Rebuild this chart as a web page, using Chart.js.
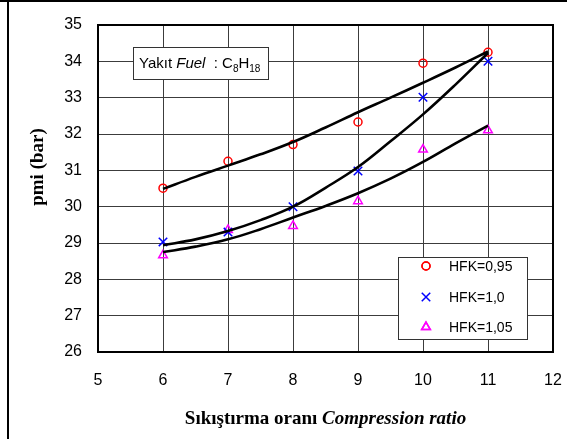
<!DOCTYPE html>
<html>
<head>
<meta charset="utf-8">
<script src="https://cdn.jsdelivr.net/npm/chart.js@4/dist/chart.umd.min.js"></script>
<style>
  html, body { margin: 0; padding: 0; background: #fff; }
  #wrap { width: 567px; height: 439px; position: relative; }
</style>
</head>
<body>
<div id="wrap"><canvas id="chart" width="567" height="439"></canvas></div>
<script>
// compression ratio values (x)
const ratios = [6, 7, 8, 9, 10, 11];

// measured pmi (bar)
const hfk095 = [30.51, 31.25, 31.71, 32.33, 33.95, 34.25];
const hfk100 = [29.03, 29.3, 30.0, 30.98, 33.01, 34.0];
const hfk105 = [28.66, 29.36, 29.47, 30.15, 31.57, 32.1];

// trend curves
const fitX = [6, 6.5, 7, 7.5, 8, 8.5, 9, 9.5, 10, 10.5, 11];
const fit095 = [30.49, 30.82, 31.13, 31.44, 31.78, 32.18, 32.6, 33.0, 33.41, 33.83, 34.27];
const fit100 = [28.94, 29.1, 29.33, 29.63, 30.0, 30.52, 31.09, 31.8, 32.54, 33.36, 34.23];
const fit105 = [28.75, 28.9, 29.1, 29.38, 29.7, 30.02, 30.37, 30.77, 31.23, 31.74, 32.23];

const seriesLabels = ['HFK=0,95', 'HFK=1,0', 'HFK=1,05'];
const xTicks = [5, 6, 7, 8, 9, 10, 11, 12];
const yTicks = [26, 27, 28, 29, 30, 31, 32, 33, 34, 35];

function pts(xs, ys) {
  return xs.map(function(x, i) { return { x: x, y: ys[i] }; });
}

function trend(ys) {
  return {
    data: pts(fitX, ys),
    showLine: true,
    borderColor: '#000',
    borderWidth: 2.6,
    pointRadius: 0,
    tension: 0.4,
    fill: false
  };
}

const markerStyles = [
  { pointStyle: 'circle', pointRadius: 4, pointBorderColor: '#ff0000', pointBackgroundColor: 'rgba(0,0,0,0)', pointBorderWidth: 1.5 },
  { pointStyle: 'crossRot', pointRadius: 6, pointBorderColor: '#0000ff', pointBackgroundColor: '#0000ff', pointBorderWidth: 1.5 },
  { pointStyle: 'triangle', pointRadius: 5, pointBorderColor: '#ff00ff', pointBackgroundColor: 'rgba(0,0,0,0)', pointBorderWidth: 1.5 }
];

function markers(ys, i) {
  const s = markerStyles[i];
  return Object.assign({ label: seriesLabels[i], data: pts(ratios, ys), showLine: false }, s);
}

// frame, plot border, note box, legend box, axis titles
const decorations = {
  id: 'decorations',
  afterDraw: function(chart) {
    const ctx = chart.ctx;
    const a = chart.chartArea;
    ctx.save();

    // outer frame (top + left)
    ctx.fillStyle = '#000';
    ctx.fillRect(0, 0, 567, 2);
    ctx.fillRect(7, 0, 2, 439);

    // plot border
    ctx.strokeStyle = '#000';
    ctx.lineWidth = 2;
    ctx.strokeRect(a.left, a.top, a.right - a.left, a.bottom - a.top);

    // fuel note
    ctx.fillStyle = '#fff';
    ctx.fillRect(133, 47, 135, 32);
    ctx.strokeStyle = '#333';
    ctx.lineWidth = 1;
    ctx.strokeRect(133.5, 47.5, 135, 32);
    ctx.fillStyle = '#000';
    ctx.textBaseline = 'alphabetic';
    ctx.textAlign = 'left';
    let x = 139;
    const base = 68;
    const parts = [
      ['Yakıt ', '15px "Liberation Sans", Arial', 0],
      ['Fuel', 'italic 15px "Liberation Sans", Arial', 0],
      ['  : C', '15px "Liberation Sans", Arial', 0],
      ['8', '10px "Liberation Sans", Arial', 4],
      ['H', '15px "Liberation Sans", Arial', 0],
      ['18', '10px "Liberation Sans", Arial', 4]
    ];
    parts.forEach(function(p) {
      ctx.font = p[1];
      ctx.fillText(p[0], x, base + p[2]);
      x += ctx.measureText(p[0]).width;
    });

    // legend
    ctx.fillStyle = '#fff';
    ctx.fillRect(398, 257, 129, 82);
    ctx.strokeStyle = '#333';
    ctx.strokeRect(398.5, 257.5, 129, 82);
    const rows = [266, 297, 327];
    ctx.font = '14px "Liberation Sans", Arial';
    ctx.textBaseline = 'middle';
    seriesLabels.forEach(function(lbl, i) {
      const s = markerStyles[i];
      ctx.strokeStyle = s.pointBorderColor;
      ctx.fillStyle = s.pointBackgroundColor;
      ctx.lineWidth = s.pointBorderWidth;
      Chart.helpers.drawPoint(ctx, { pointStyle: s.pointStyle, radius: s.pointRadius, rotation: 0, borderWidth: s.pointBorderWidth }, 426, rows[i]);
      if (s.pointStyle !== 'crossRot') ctx.stroke();
      ctx.fillStyle = '#000';
      ctx.fillText(lbl, 449, rows[i] + 1);
    });

    // x title with italic part
    ctx.textBaseline = 'alphabetic';
    const t1 = 'Sıkıştırma oranı ';
    const t2 = 'Compression ratio';
    ctx.font = 'bold 19px "Liberation Serif", "Times New Roman", serif';
    const w1 = ctx.measureText(t1).width;
    ctx.font = 'bold italic 19px "Liberation Serif", "Times New Roman", serif';
    const w2 = ctx.measureText(t2).width;
    let sx = (a.left + a.right) / 2 - (w1 + w2) / 2;
    ctx.font = 'bold 19px "Liberation Serif", "Times New Roman", serif';
    ctx.fillText(t1, sx, 424);
    ctx.font = 'bold italic 19px "Liberation Serif", "Times New Roman", serif';
    ctx.fillText(t2, sx + w1, 424);

    // y title
    ctx.translate(38, 167);
    ctx.rotate(-Math.PI / 2);
    ctx.textAlign = 'center';
    ctx.textBaseline = 'middle';
    ctx.font = 'bold 19px "Liberation Serif", "Times New Roman", serif';
    ctx.fillText('pmi (bar)', 0, 0);

    ctx.restore();
  }
};

new Chart(document.getElementById('chart').getContext('2d'), {
  type: 'scatter',
  data: {
    datasets: [
      trend(fit095),
      trend(fit100),
      trend(fit105),
      markers(hfk095, 0),
      markers(hfk100, 1),
      markers(hfk105, 2)
    ]
  },
  options: {
    responsive: false,
    animation: false,
    layout: { padding: { left: 0, right: 14, top: 25, bottom: 0 } },
    plugins: {
      legend: { display: false },
      tooltip: { enabled: false }
    },
    scales: {
      x: {
        type: 'linear',
        min: 5,
        max: 12,
        afterBuildTicks: function(axis) { axis.ticks = xTicks.map(function(v) { return { value: v }; }); },
        afterFit: function(axis) { axis.height = 87; },
        grid: { color: '#3c3c3c', lineWidth: 1, drawTicks: true, tickLength: 19, tickColor: 'rgba(0,0,0,0)' },
        border: { display: false },
        ticks: { color: '#000', padding: 0, font: { family: '"Liberation Sans", Arial', size: 16 } }
      },
      y: {
        min: 26,
        max: 35,
        afterBuildTicks: function(axis) { axis.ticks = yTicks.map(function(v) { return { value: v }; }); },
        afterFit: function(axis) { axis.width = 98; },
        grid: { color: '#3c3c3c', lineWidth: 1, drawTicks: true, tickLength: 16, tickColor: 'rgba(0,0,0,0)' },
        border: { display: false },
        ticks: { color: '#000', padding: 0, font: { family: '"Liberation Sans", Arial', size: 16 } }
      }
    }
  },
  plugins: [decorations]
});
</script>
</body>
</html>
